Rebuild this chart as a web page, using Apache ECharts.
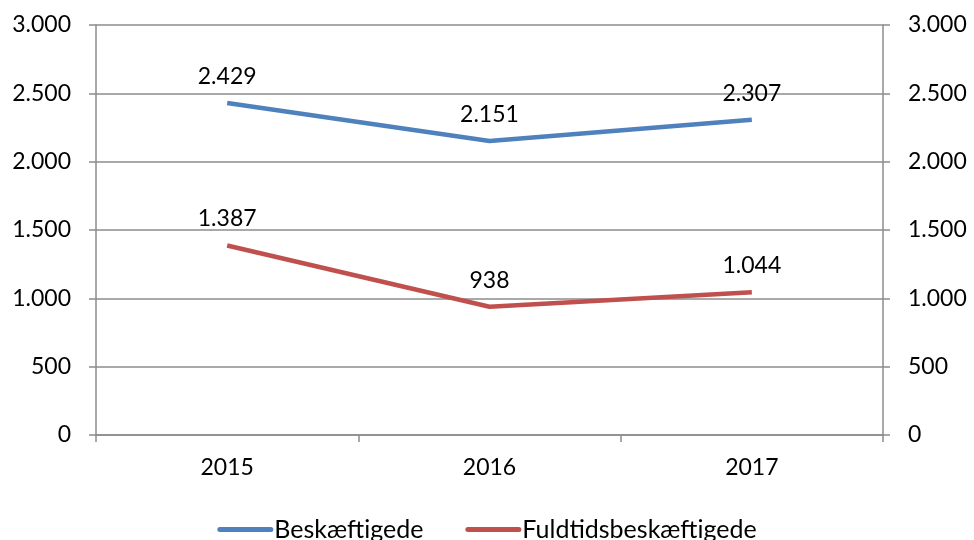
<!DOCTYPE html>
<html><head><meta charset="utf-8">
<script src="https://cdn.jsdelivr.net/npm/echarts@6/dist/echarts.min.js"></script>
<style>html,body{margin:0;padding:0;background:#fff}#c{width:974px;height:540px}</style>
</head><body><div id="c"></div>
<script>
const categories = ['2015', '2016', '2017'];
const beskaeftigede = [2429, 2151, 2307];
const fuldtids = [1387, 938, 1044];
const seriesNames = ['Beskæftigede', 'Fuldtidsbeskæftigede'];

const fmt = v => {
  const s = String(Math.round(v));
  return s.replace(/\B(?=(\d{3})+(?!\d))/g, '.');
};
const FONT = 'Lato';
const FS = 23;
const axisCol = '#8c8c8c';
const yAxisBase = {
  type: 'value', min: 0, max: 3000, interval: 500,
  axisLine: { show: true, lineStyle: { color: axisCol, width: 1.5 } },
  axisTick: { show: true, length: 7, lineStyle: { color: axisCol, width: 1.5 } },
  axisLabel: { color: '#000', fontFamily: FONT, fontSize: FS, margin: 25, formatter: fmt }
};
const labelCfg = { show: true, position: 'top', distance: 15, color: '#000', fontFamily: FONT, fontSize: FS, formatter: p => fmt(p.value) };
const chart = echarts.init(document.getElementById('c'));
chart.setOption({
  animation: false,
  grid: { left: 96, right: 91, top: 25, bottom: 105 },
  legend: {
    top: 512, left: 'center', itemGap: 42, itemWidth: 56, itemHeight: 5,
    textStyle: { color: '#000', fontFamily: FONT, fontSize: 25, padding: [0,0,0,-4] },
    data: seriesNames.map(n => ({ name: n, icon: 'path://M2.5,0H53.5A2.5,2.5,0,0,1,53.5,5H2.5A2.5,2.5,0,0,1,2.5,0Z' }))
  },
  xAxis: {
    type: 'category', data: categories, boundaryGap: true,
    axisLine: { lineStyle: { color: axisCol, width: 1.5 } },
    axisTick: { show: true, length: 7, lineStyle: { color: axisCol, width: 1.5 } },
    axisLabel: { color: '#000', fontFamily: FONT, fontSize: FS, margin: 21 }
  },
  yAxis: [
    Object.assign({}, yAxisBase, { position: 'left', splitLine: { show: true, lineStyle: { color: axisCol, width: 1.5 } } }),
    Object.assign({}, yAxisBase, { position: 'right', splitLine: { show: false } })
  ],
  series: [
    { name: seriesNames[0], type: 'line', data: beskaeftigede, yAxisIndex: 0,
      symbol: 'circle', symbolSize: 0, showSymbol: true,
      lineStyle: { color: '#4F81BD', width: 4.5 }, itemStyle: { color: '#4F81BD' },
      label: labelCfg },
    { name: seriesNames[1], type: 'line', data: fuldtids, yAxisIndex: 0,
      symbol: 'circle', symbolSize: 0, showSymbol: true,
      lineStyle: { color: '#C0504D', width: 4.5 }, itemStyle: { color: '#C0504D' },
      label: labelCfg }
  ]
});
</script></body></html>
